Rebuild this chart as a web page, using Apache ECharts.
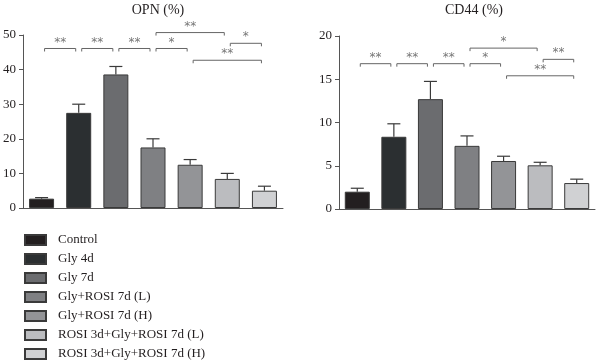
<!DOCTYPE html>
<html><head><meta charset="utf-8">
<script src="https://cdn.jsdelivr.net/npm/echarts@6/dist/echarts.min.js"></script>
<style>html,body{margin:0;padding:0;background:#fff}#c{width:600px;height:361px}</style>
</head><body><div id="c"></div>
<script>
var groups = ['Control','Gly 4d','Gly 7d','Gly+ROSI 7d (L)','Gly+ROSI 7d (H)','ROSI 3d+Gly+ROSI 7d (L)','ROSI 3d+Gly+ROSI 7d (H)'];
var colors = ['#231f20','#2b2f31','#6b6c6f','#7f8083','#939497','#bbbcbf','#d0d1d3'];
var opnMean = [2.7, 27.5, 38.6, 17.5, 12.5, 8.4, 5.0];
var opnUpper = [3.0, 30.0, 40.9, 20.0, 14.0, 10.0, 6.3];
var cd44Mean = [2.0, 8.35, 12.7, 7.3, 5.55, 5.05, 3.0];
var cd44Upper = [2.4, 9.85, 14.75, 8.45, 6.1, 5.4, 3.45];
// brackets: [fromIndex, toIndex, yValue, label]
var opnBrackets = [[0,1,46.1,'**'],[1,2,46.1,'**'],[2,3,46.1,'**'],[3,4,46.1,'*'],[3,5,50.7,'**'],[5,6,47.6,'*'],[4,6,42.7,'**']];
var cd44Brackets = [[0,1,16.8,'**'],[1,2,16.8,'**'],[2,3,16.8,'**'],[3,4,16.8,'*'],[3,5,18.6,'*'],[5,6,17.3,'**'],[4,6,15.4,'**']];

var FONT = 'Liberation Serif';
var chart = echarts.init(document.getElementById('c'));

function barSeries(idx, means) {
  return groups.map(function (g, i) {
    var d = means.map(function (v, k) { return k === i ? v : '-'; });
    return {
      type: 'bar', name: g, xAxisIndex: idx, yAxisIndex: idx, stack: 's' + idx,
      barWidth: 25, data: d,
      itemStyle: { color: colors[i], borderColor: '#3a3a3a', borderWidth: 1 },
      emphasis: { disabled: true }, animation: false
    };
  });
}
function errSeries(idx, means, uppers) {
  return {
    type: 'custom', xAxisIndex: idx, yAxisIndex: idx, z: 5, animation: false,
    data: means.map(function (m, i) { return [i, m, uppers[i]]; }),
    renderItem: function (params, api) {
      var p0 = api.coord([api.value(0), api.value(1)]);
      var p1 = api.coord([api.value(0), api.value(2)]);
      var st = { stroke: '#3a3a3a', lineWidth: 1.2 };
      return { type: 'group', children: [
        { type: 'line', shape: { x1: p0[0], y1: p0[1], x2: p1[0], y2: p1[1] }, style: st },
        { type: 'line', shape: { x1: p1[0] - 6.5, y1: p1[1], x2: p1[0] + 6.5, y2: p1[1] }, style: st }
      ]};
    }
  };
}
function brSeries(idx, brs) {
  return {
    type: 'custom', xAxisIndex: idx, yAxisIndex: idx, z: 6, animation: false,
    data: brs.map(function (b) { return [b[0], b[1], b[2], b[3]]; }),
    renderItem: function (params, api) {
      var b = brs[params.dataIndex];
      var a = api.coord([b[0], b[2]]);
      var c = api.coord([b[1], b[2]]);
      var x1 = a[0] + 3, x2 = c[0] - 3, y = a[1];
      return { type: 'group', children: [
        { type: 'polyline', shape: { points: [[x1, y + 3], [x1, y], [x2, y], [x2, y + 3]] },
          style: { stroke: '#666', lineWidth: 1, fill: null } },
        { type: 'text', style: { text: b[3], x: (x1 + x2) / 2, y: y - 6, align: 'center', verticalAlign: 'middle',
          fill: '#777', font: '12px DejaVu Sans' } }
      ]};
    }
  };
}
var axisLineStyle = { show: true, lineStyle: { color: '#555', width: 1 } };
var yTick = { show: true, length: 4, lineStyle: { color: '#555' } };
var option = {
  animation: false,
  title: [
    { text: 'OPN (%)', left: 153, top: -2, textAlign: 'center', textStyle: { fontFamily: FONT, fontSize: 14, fontWeight: 'normal', color: '#231f20' } },
    { text: 'CD44 (%)', left: 469, top: -2, textAlign: 'center', textStyle: { fontFamily: FONT, fontSize: 14, fontWeight: 'normal', color: '#231f20' } }
  ],
  grid: [
    { left: 22, top: 35, width: 261, height: 173 },
    { left: 339, top: 36, width: 256, height: 173 }
  ],
  xAxis: [0, 1].map(function (i) {
    return { type: 'category', gridIndex: i, data: groups, axisLabel: { show: false },
      axisTick: { alignWithLabel: true, length: 4, lineStyle: { color: '#555' } }, axisLine: axisLineStyle };
  }),
  yAxis: [
    { type: 'value', gridIndex: 0, min: 0, max: 50, interval: 10, splitLine: { show: false },
      axisLabel: { fontFamily: FONT, fontSize: 13, color: '#231f20', margin: 7 }, axisLine: axisLineStyle, axisTick: yTick },
    { type: 'value', gridIndex: 1, min: 0, max: 20, interval: 5, splitLine: { show: false },
      axisLabel: { fontFamily: FONT, fontSize: 13, color: '#231f20', margin: 7 }, axisLine: axisLineStyle, axisTick: yTick }
  ],
  legend: {
    orient: 'vertical', left: 24, top: 233, padding: 0, height: 140, itemWidth: 21, itemHeight: 10, itemGap: 5,
    icon: 'rect', data: groups, selectedMode: false,
    textStyle: { fontFamily: FONT, fontSize: 13, color: '#231f20', padding: [0, 0, 0, 7], lineHeight: 14 }
  },
  series: [].concat(
    barSeries(0, opnMean), barSeries(1, cd44Mean),
    [errSeries(0, opnMean, opnUpper), errSeries(1, cd44Mean, cd44Upper),
     brSeries(0, opnBrackets), brSeries(1, cd44Brackets)]
  )
};
chart.setOption(option);
</script></body></html>
